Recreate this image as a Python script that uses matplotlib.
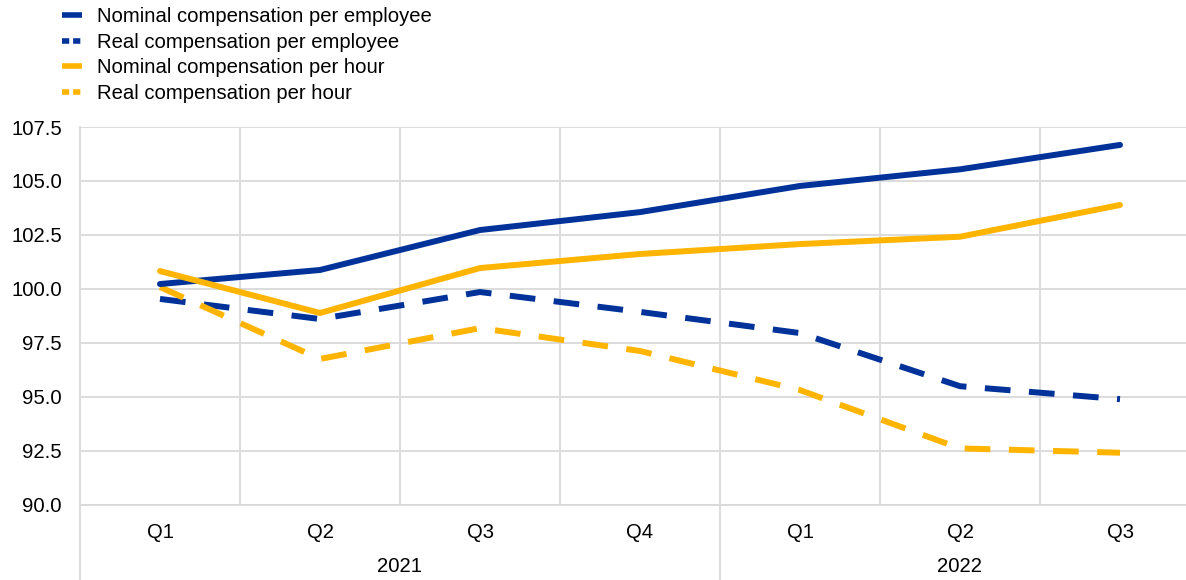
import matplotlib
matplotlib.use("Agg")
import matplotlib.pyplot as plt
from matplotlib.lines import Line2D
from matplotlib.transforms import blended_transform_factory

plt.rcParams["font.family"] = ["Liberation Sans", "DejaVu Sans"]
plt.rcParams["font.size"] = 14.6

quarters = ["Q1", "Q2", "Q3", "Q4", "Q1", "Q2", "Q3"]
years = ["2021", "2022"]
year_spans = [(0, 3), (4, 6)]

nominal_employee = [100.23, 100.88, 102.73, 103.56, 104.77, 105.54, 106.67]
real_employee = [99.54, 98.61, 99.86, 98.94, 97.96, 95.50, 94.90]
nominal_hour = [100.83, 98.89, 100.97, 101.62, 102.08, 102.42, 103.89]
real_hour = [100.09, 96.76, 98.19, 97.13, 95.32, 92.62, 92.42]

BLUE = "#003299"
YELLOW = "#FFB400"
GRID = "#d9d9d9"

W, H = 1186, 580
fig = plt.figure(figsize=(W / 100, H / 100), dpi=100)
# plot area runs from x=80 to x=1200 px, a little past the right edge
ax = fig.add_axes([80 / W, 75 / H, 1120 / W, 378 / H])

x = list(range(len(quarters)))
lw = 4.3
ax.plot(x, nominal_employee, color=BLUE, lw=lw, solid_capstyle="round", zorder=4)
ax.plot(x, real_employee, color=BLUE, lw=lw, dashes=(4.3, 3.1), dash_capstyle="butt", zorder=3)
ax.plot(x, nominal_hour, color=YELLOW, lw=lw, solid_capstyle="round", zorder=4)
ax.plot(x, real_hour, color=YELLOW, lw=lw, dashes=(4.3, 3.1), dash_capstyle="butt", zorder=3)

ax.set_xlim(-0.5, len(quarters) - 0.5)
ax.set_ylim(90, 107.5)
ax.set_yticks([90 + 2.5 * i for i in range(8)])
ax.set_yticklabels([f"{90 + 2.5 * i:.1f}" for i in range(8)])
ax.set_xticks(x)
ax.set_xticklabels(quarters)
ax.set_xticks([i + 0.5 for i in range(len(quarters) - 1)], minor=True)
ax.tick_params(axis="both", which="both", length=0)
ax.tick_params(axis="x", pad=13)
ax.tick_params(axis="y", pad=13)

ax.grid(axis="y", color=GRID, lw=1.3, zorder=0)
ax.grid(axis="x", which="minor", color=GRID, lw=1.3, zorder=0)
for side in ["top", "right"]:
    ax.spines[side].set_visible(False)
for side in ["left", "bottom"]:
    ax.spines[side].set_color(GRID)
    ax.spines[side].set_linewidth(1.3)

# year group labels and separators below the axis
trans = blended_transform_factory(ax.transData, ax.transAxes)
for label, (a, b) in zip(years, year_spans):
    ax.text((a + b) / 2, -62 / 378, label, transform=trans, ha="center", va="center")
for sep in [-0.5, 3.5]:
    ax.add_line(Line2D([sep, sep], [0, -80 / 378], transform=trans, color=GRID,
                       lw=1.3, clip_on=False))

handles = [
    Line2D([], [], color=BLUE, lw=4, solid_capstyle="butt"),
    Line2D([], [], color=BLUE, lw=4, dashes=(1.3, 0.7), dash_capstyle="butt"),
    Line2D([], [], color=YELLOW, lw=4, solid_capstyle="butt"),
    Line2D([], [], color=YELLOW, lw=4, dashes=(1.3, 0.7), dash_capstyle="butt"),
]
labels = ["Nominal compensation per employee", "Real compensation per employee",
          "Nominal compensation per hour", "Real compensation per hour"]
fig.legend(handles, labels, loc="upper left", bbox_to_anchor=(62 / W, 1 - 7 / H),
           frameon=False, handlelength=1.0, handletextpad=0.74, labelspacing=0.33,
           borderpad=0, borderaxespad=0)

fig.savefig("out.png", dpi=100)
